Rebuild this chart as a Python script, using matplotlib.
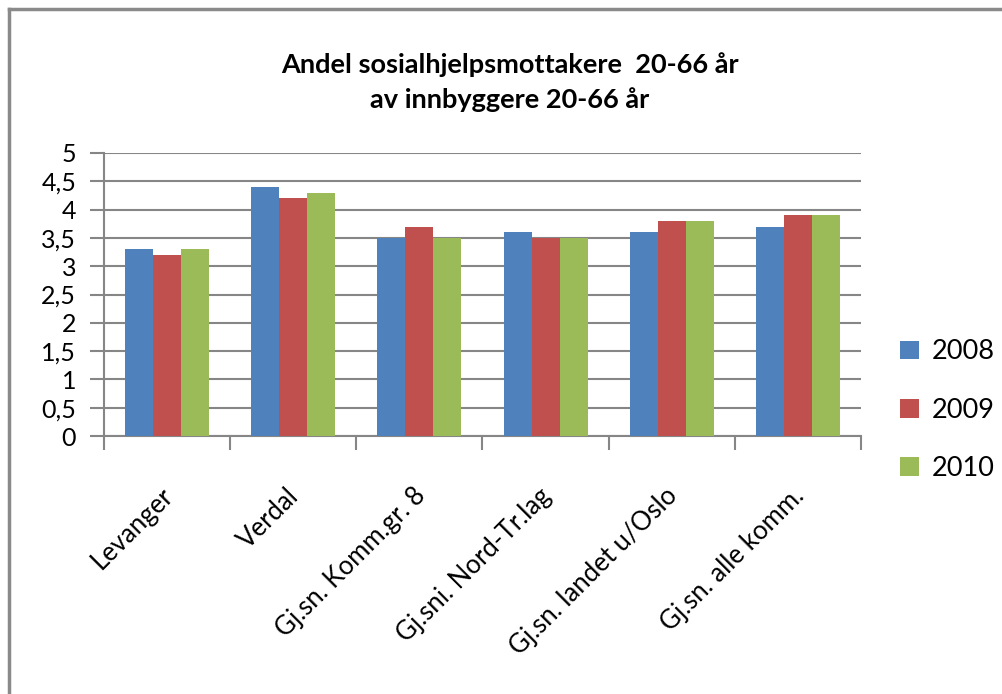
import numpy as np
import matplotlib
matplotlib.use('Agg')
import matplotlib.pyplot as plt
from matplotlib.lines import Line2D
from matplotlib.ticker import FuncFormatter
from matplotlib.transforms import ScaledTranslation

plt.rcParams['font.family'] = ['Lato', 'DejaVu Sans']

# data
kategorier = ['Levanger', 'Verdal', 'Gj.sn. Komm.gr. 8', 'Gj.sni. Nord-Tr.lag',
              'Gj.sn. landet u/Oslo', 'Gj.sn. alle komm.']
aar = ['2008', '2009', '2010']
v2008 = [3.3, 4.4, 3.5, 3.6, 3.6, 3.7]
v2009 = [3.2, 4.2, 3.7, 3.5, 3.8, 3.9]
v2010 = [3.3, 4.3, 3.5, 3.5, 3.8, 3.9]
farger = ['#4F81BD', '#C0504D', '#9BBB59']

fig = plt.figure(figsize=(10.03, 6.94), dpi=100)
ax = fig.add_axes([104/1003, 1-436/694, 757/1003, 283/694])

x = np.arange(len(kategorier))
w = 1/4.5
serier = [v2008, v2009, v2010]
for i, (vals, navn) in enumerate(zip(serier, aar)):
    ax.bar(x + (i-1)*w, vals, width=w, color=farger[i], label=navn, zorder=3)

ax.set_xlim(-0.5, len(kategorier)-0.5)
ax.set_ylim(0, 5)
ax.set_yticks(np.arange(0, 5.01, 0.5))
ax.yaxis.set_major_formatter(FuncFormatter(lambda v, p: ('%g' % v).replace('.', ',')))
ax.grid(axis='y', color='#868686', lw=1.5, zorder=0)

gray = '#868686'
for s in ['top', 'right']:
    ax.spines[s].set_visible(False)
for s in ['left', 'bottom']:
    ax.spines[s].set_color(gray)
    ax.spines[s].set_linewidth(1.5)

ax.tick_params(axis='y', length=10, width=1.5, color=gray, labelsize=18, pad=10)
ax.set_xticks(x)
ax.set_xticklabels(kategorier, rotation=45, ha='right', rotation_mode='anchor', fontsize=18.5)
ax.tick_params(axis='x', which='major', length=0, pad=34)
ax.set_xticks(np.arange(-0.5, len(kategorier), 1), minor=True)
ax.tick_params(axis='x', which='minor', length=10, width=1.5, color=gray)
forskyv = ScaledTranslation(-7/100, 0, fig.dpi_scale_trans)
for lbl in ax.get_xticklabels():
    lbl.set_transform(lbl.get_transform() + forskyv)

fig.text(0.508, 1-65/694, 'Andel sosialhjelpsmottakere  20-66 år', ha='center', va='center',
         fontsize=19.5, fontweight='bold')
fig.text(0.508, 1-100/694, 'av innbyggere 20-66 år', ha='center', va='center',
         fontsize=19.5, fontweight='bold')

fig.legend(loc='center left', bbox_to_anchor=(876/1003, 1-410/694), frameon=False,
           fontsize=19.5, handlelength=0.7, handleheight=0.7, handletextpad=0.45,
           labelspacing=1.22)

# border (top and left visible)
fig.add_artist(Line2D([9/1003, 9/1003], [0, 1-9/694], color='#8a8a8a', lw=2.5, transform=fig.transFigure))
fig.add_artist(Line2D([9/1003, 1], [1-9/694, 1-9/694], color='#8a8a8a', lw=2.5, transform=fig.transFigure))

fig.savefig('out.png', dpi=100)
